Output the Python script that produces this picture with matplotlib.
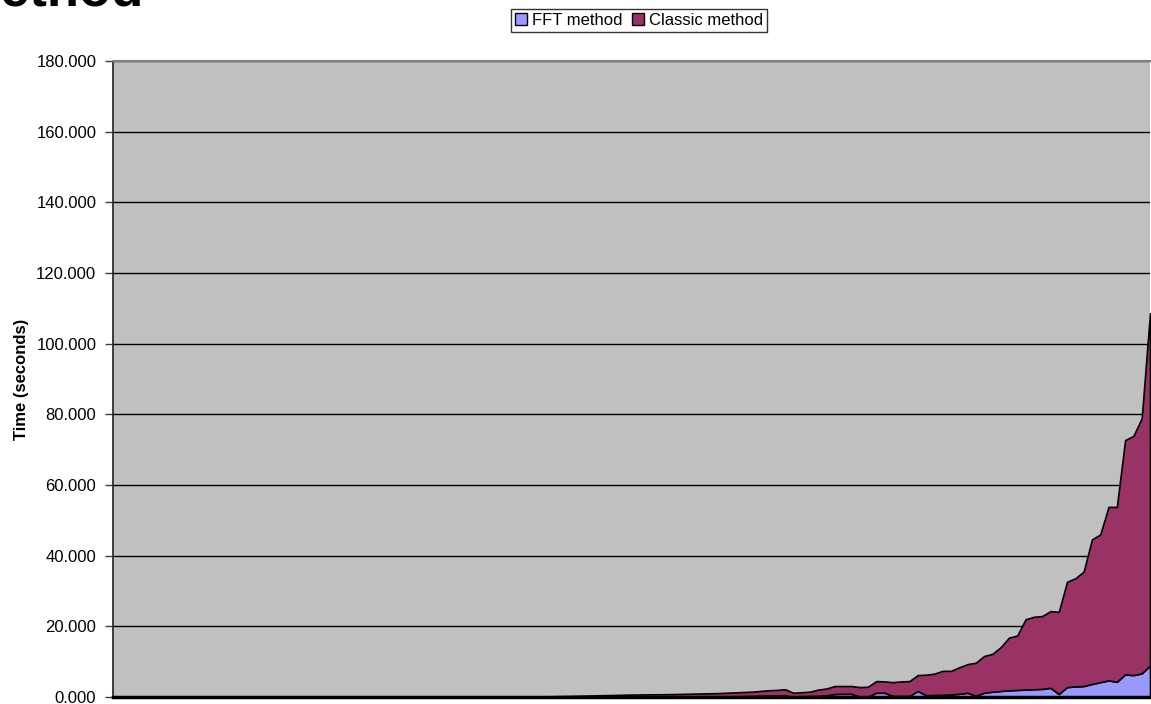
import numpy as np
import matplotlib
matplotlib.use("Agg")
import matplotlib.pyplot as plt
from matplotlib.patches import Patch

plt.rcParams['font.family'] = ['Liberation Sans', 'DejaVu Sans']

# run times (seconds) per test case, stacked: FFT first, classic on top
fft_times = [
    0.0, 0.0, 0.0, 0.0, 0.0, 0.0, 0.0, 0.0, 0.0, 0.0,
    0.0, 0.0, 0.0, 0.0, 0.0, 0.0, 0.0, 0.0, 0.0, 0.0,
    0.0, 0.0, 0.0, 0.0, 0.0, 0.0, 0.0, 0.0, 0.0, 0.0,
    0.001, 0.001, 0.001, 0.002, 0.002, 0.002, 0.003, 0.003, 0.004, 0.004,
    0.005, 0.005, 0.006, 0.007, 0.008, 0.009, 0.010, 0.012, 0.014, 0.016,
    0.02, 0.02, 0.03, 0.03, 0.04, 0.04, 0.05, 0.05, 0.06, 0.06,
    0.07, 0.07, 0.08, 0.08, 0.09, 0.09, 0.10, 0.10, 0.11, 0.12,
    0.13, 0.14, 0.15, 0.16, 0.18, 0.20, 0.25, 0.30, 0.35, 0.40,
    0.40, 0.45, 0.10, 0.25, 0.30, 0.30, 0.50, 0.85, 0.90, 0.90,
    0.10, 0.10, 1.20, 1.20, 0.30, 0.30, 0.30, 1.70, 0.50, 0.60,
    0.60, 0.70, 0.90, 1.20, 0.37, 1.20, 1.50, 1.70, 1.90, 2.00,
    2.10, 2.20, 2.30, 2.60, 0.85, 2.80, 3.00, 3.10, 3.70, 4.20,
    4.70, 4.30, 6.40, 6.20, 6.70, 8.90,
]
classic_times = [
    0.0, 0.0, 0.0, 0.0, 0.0, 0.0, 0.0, 0.0, 0.0, 0.0,
    0.0, 0.0, 0.0, 0.0, 0.0, 0.0, 0.0, 0.0, 0.0, 0.0,
    0.0, 0.0, 0.0, 0.0, 0.0, 0.0, 0.0, 0.0, 0.0, 0.0,
    0.002, 0.002, 0.003, 0.003, 0.004, 0.005, 0.006, 0.007, 0.008, 0.009,
    0.010, 0.012, 0.014, 0.016, 0.019, 0.022, 0.026, 0.030, 0.040, 0.060,
    0.08, 0.12, 0.15, 0.19, 0.22, 0.26, 0.30, 0.35, 0.39, 0.44,
    0.48, 0.53, 0.57, 0.62, 0.63, 0.66, 0.68, 0.70, 0.74, 0.78,
    0.82, 0.86, 0.90, 0.94, 1.02, 1.10, 1.15, 1.20, 1.35, 1.50,
    1.60, 1.75, 1.10, 1.10, 1.20, 1.80, 1.90, 2.25, 2.20, 2.20,
    2.70, 2.80, 3.30, 3.20, 3.90, 4.10, 4.20, 4.50, 5.80, 6.00,
    6.80, 6.70, 7.50, 8.10, 9.33, 10.40, 10.70, 12.40, 14.90, 15.40,
    19.90, 20.50, 20.60, 21.70, 23.25, 29.80, 30.60, 32.40, 40.90, 41.80,
    49.10, 49.50, 66.30, 67.70, 72.20, 99.70,
]
series_names = ["FFT method", "Classic method"]
series_colors = ["#9999FF", "#993366"]
y_ticks = [0, 20, 40, 60, 80, 100, 120, 140, 160, 180]

W, H = 1151, 704
fig = plt.figure(figsize=(W / 100, H / 100), dpi=100)
fig.patch.set_facecolor("white")

ax = fig.add_axes([113 / W, 7 / H, (1150 - 113) / W, (697 - 61) / H])
ax.set_facecolor("#C0C0C0")

x = np.arange(len(fft_times))
ax.stackplot(x, fft_times, classic_times, colors=series_colors,
             edgecolor="black", linewidth=1.2, zorder=3)

ax.set_xlim(0, len(fft_times) - 1)
ax.set_ylim(0, 180)
ax.set_yticks(y_ticks)
ax.set_yticklabels([f"{v:.3f}" for v in y_ticks], fontsize=12)
ax.yaxis.grid(True, color="black", linewidth=1.0, zorder=1)
ax.set_axisbelow(True)
ax.tick_params(axis="y", length=6, width=1, color="#404040", pad=6)
ax.tick_params(axis="x", length=0, labelbottom=False)

ax.spines["right"].set_visible(False)
ax.spines["top"].set_color("#808080")
ax.spines["top"].set_linewidth(1.5)
ax.spines["left"].set_color("#202020")
ax.spines["left"].set_linewidth(1.2)
ax.spines["bottom"].set_color("black")
ax.spines["bottom"].set_linewidth(2.5)
ax.spines["bottom"].set_zorder(5)

ax.set_ylabel("Time (seconds)", fontsize=12, fontweight="bold", labelpad=5)

handles = [Patch(facecolor=c, edgecolor="black", linewidth=1) for c in series_colors]
leg = fig.legend(handles, series_names, loc="center", bbox_to_anchor=(639 / W, 1 - 20.5 / H),
                 ncol=2, fontsize=12, frameon=True, fancybox=False, edgecolor="black",
                 handlelength=0.7, handleheight=0.7, handletextpad=0.3, columnspacing=0.6,
                 borderpad=0.25, borderaxespad=0)
leg.get_frame().set_linewidth(1)

# chart title, mostly above the visible area
fig.text(143 / W, 1 - 5 / H, "Classic method", fontsize=38, fontweight="bold",
         ha="right", va="baseline")

fig.savefig("out.png", dpi=100)
